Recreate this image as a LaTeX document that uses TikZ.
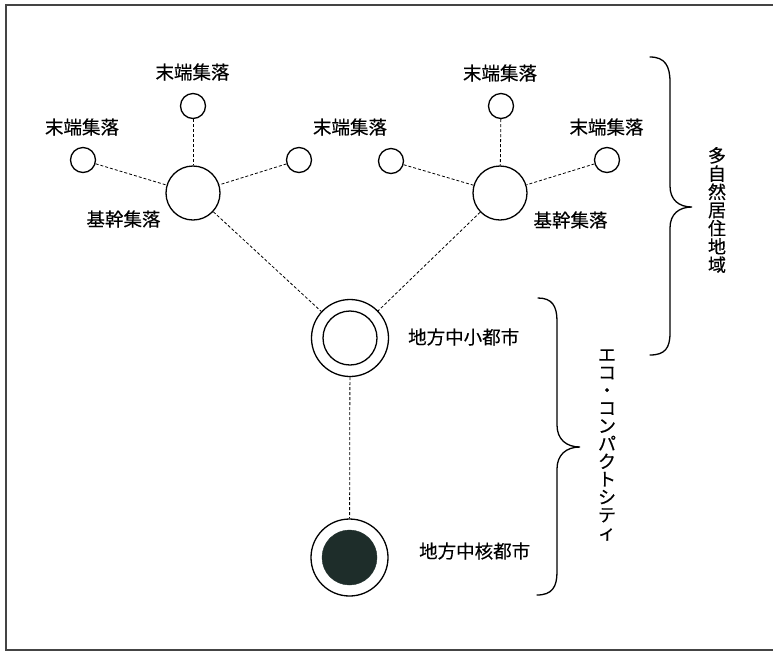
\documentclass[tikz,border=0pt]{standalone}
\usepackage{fontspec}
\newfontfamily\cjk[FakeBold=0.3]{Noto Sans CJK JP}
\usetikzlibrary{calc}
\definecolor{corefill}{HTML}{1E2D2A}
\definecolor{framegray}{HTML}{444444}
\begin{document}
\begin{tikzpicture}[x=1pt,y=-1pt,
  lbl/.style={inner sep=0pt,font=\cjk\fontsize{18.5}{19}\selectfont},
  vlbl/.style={inner sep=0pt,align=center,font=\cjk\fontsize{18}{18.2}\selectfont},
  small/.style={circle,draw,line width=1.3pt,minimum size=25pt,inner sep=0pt},
  base/.style={circle,draw,line width=1.3pt,minimum size=54pt,inner sep=0pt},
  city/.style={circle,draw,line width=1.3pt,minimum size=77pt,inner sep=0pt},
  cityin/.style={circle,draw,line width=1.3pt,minimum size=54pt,inner sep=0pt},
  corein/.style={circle,fill=corefill,draw=corefill,minimum size=55pt,inner sep=0pt},
  link/.style={dash pattern=on 3pt off 2pt,line width=0.8pt},
  bracestyle/.style={line width=1.3pt,line cap=round}]
\useasboundingbox (0,0) rectangle (773,657);
\draw[framegray,line width=1.4pt] (790,5) -- (6,5) -- (6,650) -- (790,650);

% nodes
\node[small] (s1) at (193,106) {};
\node[small] (s2) at (83,160) {};
\node[small] (s3) at (299,160) {};
\node[small] (s4) at (391,161) {};
\node[small] (s5) at (501,106) {};
\node[small] (s6) at (607,160) {};
\node[base] (b1) at (193,193) {};
\node[base] (b2) at (500,193) {};
\node[city] (c1) at (350,338) {};
\node[cityin] (c1i) at (c1.center) {};
\node[city] (c2) at (349.5,557.5) {};
\node[corein] (c2i) at (c2.center) {};

% connectors
\draw[link] (s1) -- (b1);
\draw[link] (s2) -- (b1);
\draw[link] (s3) -- (b1);
\draw[link] (s4) -- (b2);
\draw[link] (s5) -- (b2);
\draw[link] (s6) -- (b2);
\draw[link] (b1) -- (c1);
\draw[link] (b2) -- (c1);
\draw[link] (c1) -- (c2);

% labels
\node[lbl] (t1) at (192.5,72) {末端集落};
\node[lbl] (t2) at (82,127) {末端集落};
\node[lbl] (t3) at (350,127) {末端集落};
\node[lbl] (t5) at (500,73) {末端集落};
\node[lbl] (t6) at (606.5,127) {末端集落};
\node[lbl] (k1) at (123.5,219) {基幹集落};
\node[lbl] (k2) at (570.5,220) {基幹集落};
\node[lbl,anchor=west] (m1) at (408,337) {地方中小都市};
\node[lbl,anchor=west] (m2) at (419,551) {地方中核都市};

% braces
\draw[bracestyle] (650,57) .. controls (665,57) and (670,66) .. (670,82) -- (670,186)
  .. controls (670,200) and (679,207) .. (692,207)
  .. controls (679,207) and (670,214) .. (670,228) -- (670,333)
  .. controls (670,348) and (665,355) .. (650,355);
\draw[bracestyle] (538,298) .. controls (552,298) and (557,306) .. (557,321) -- (557,425)
  .. controls (557,439) and (566,447) .. (580,447)
  .. controls (566,447) and (557,455) .. (557,469) -- (557,572)
  .. controls (557,587) and (552,595) .. (537,595);

\node[vlbl] (v1) at (717,210) {多\\自\\然\\居\\住\\地\\域};
\node[vlbl,font=\cjk\fontsize{18}{17.8}\selectfont] (v2) at (607,445) {エ\\コ\\・\\コ\\ン\\パ\\ク\\ト\\シ\\テ\\ィ};
\end{tikzpicture}
\end{document}
